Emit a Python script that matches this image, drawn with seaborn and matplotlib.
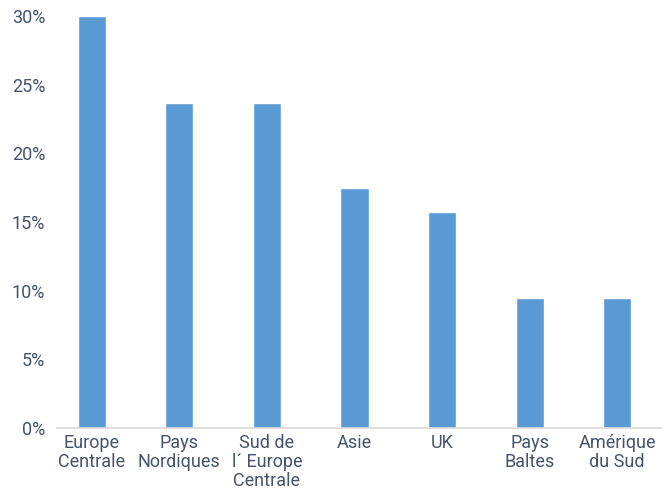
import numpy as np
import pandas as pd
import matplotlib.pyplot as plt
import seaborn as sns

regions = ['Europe\nCentrale', 'Pays\nNordiques', 'Sud de\nl´ Europe\nCentrale',
           'Asie', 'UK', 'Pays\nBaltes', 'Amérique\ndu Sud']
shares = [30.0, 23.7, 23.7, 17.5, 15.7, 9.5, 9.5]
yticks = [0, 5, 10, 15, 20, 25, 30]

df = pd.DataFrame({'region': regions, 'share': shares})

sns.set_style('white')
plt.rcParams['font.family'] = ['Roboto', 'DejaVu Sans']
plt.rcParams['font.size'] = 13

fig = plt.figure(figsize=(6.7, 4.94), dpi=100)
ax = fig.add_axes([0.0716, 0.1336, 0.915, 0.834])

sns.barplot(data=df, x='region', y='share', color='#5b9bd5', saturation=1,
            width=0.32, ax=ax)

ax.set_xlim(-0.5, 6.5)
ax.set_ylim(0, 30)
ax.set_yticks(yticks)
ax.set_yticklabels([f'{t}%' for t in yticks])
ax.set_xlabel('')
ax.set_ylabel('')

txt = '#44546a'
ax.tick_params(axis='both', length=0, colors=txt, labelsize=13)
ax.tick_params(axis='y', pad=2)
ax.tick_params(axis='x', pad=4)
for lab in ax.get_xticklabels():
    lab.set_linespacing(1.08)

for s in ['top', 'right', 'left']:
    ax.spines[s].set_visible(False)
ax.spines['bottom'].set_color('#d9d9d9')
ax.spines['bottom'].set_linewidth(1.2)
ax.spines['bottom'].set_bounds(-0.4, 6.5)

fig.savefig('out.png', dpi=100)
